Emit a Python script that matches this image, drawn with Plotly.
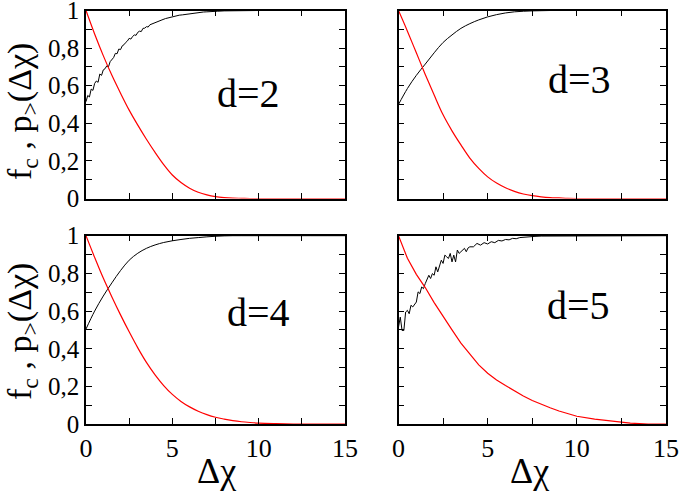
"""Four-panel plot of f_c and p_>(dchi) for d = 2..5."""

import plotly.graph_objects as go
from plotly.subplots import make_subplots

# shared x grid for the smooth curves
X_GRID = [0, 0.5, 1, 1.5, 2, 2.5, 3, 3.5, 4, 4.5, 5, 5.5, 6, 6.5, 7, 7.5,
          8, 8.5, 9, 9.5, 10, 11, 12, 13, 14, 15]

# red curves, p_>(dchi)
RED_D2 = [1.00, 0.875, 0.76, 0.655, 0.56, 0.47, 0.39, 0.315, 0.245, 0.18, 0.125,
          0.085, 0.055, 0.033, 0.019, 0.010, 0.005, 0.002, 0.001, 0, 0, 0, 0, 0, 0, 0]
RED_D3 = [1.00, 0.89, 0.775, 0.66, 0.55, 0.445, 0.36, 0.285, 0.215, 0.16, 0.115,
          0.082, 0.057, 0.038, 0.024, 0.015, 0.009, 0.005, 0.003, 0.001, 0, 0, 0, 0, 0, 0]
RED_D4 = [1.00, 0.885, 0.775, 0.675, 0.58, 0.49, 0.405, 0.328, 0.262, 0.205, 0.158,
          0.121, 0.092, 0.069, 0.051, 0.037, 0.027, 0.019, 0.013, 0.009, 0.006,
          0.003, 0.001, 0, 0, 0]
RED_D5 = [1.00, 0.88, 0.795, 0.725, 0.645, 0.57, 0.50, 0.43, 0.37, 0.315, 0.27,
          0.235, 0.205, 0.177, 0.15, 0.126, 0.105, 0.087, 0.07, 0.055, 0.042,
          0.027, 0.016, 0.006, 0, 0]

# black curves, f_c (d=3 and d=4 are smooth)
BLACK_D3 = [0.50, 0.585, 0.655, 0.715, 0.775, 0.83, 0.87, 0.905, 0.93, 0.95, 0.966,
            0.978, 0.987, 0.993, 0.996, 0.998, 0.999, 1, 1, 1, 1, 1, 1, 1, 1, 1]
BLACK_D4 = [0.505, 0.60, 0.68, 0.75, 0.815, 0.87, 0.907, 0.933, 0.951, 0.964, 0.973,
            0.98, 0.986, 0.99, 0.994, 0.997, 0.999, 1, 1, 1, 1, 1, 1, 1, 1, 1]

# noisy black curves for d=2 and d=5
X_NOISY = [0, 0.1, 0.2, 0.3, 0.4, 0.5, 0.6, 0.7, 0.8, 0.9, 1.0, 1.1, 1.2, 1.3, 1.4,
           1.5, 1.6, 1.7, 1.8, 1.9, 2.0, 2.1, 2.2, 2.3, 2.4, 2.5, 2.6, 2.7, 2.8,
           2.9, 3.0, 3.1, 3.2, 3.3, 3.4, 3.5, 3.6, 3.7, 3.8, 3.9, 4.0, 4.2, 4.4,
           4.6, 4.8, 5.0, 5.2, 5.4, 5.6, 5.8, 6.0, 6.2, 6.4, 6.6, 6.8, 7.0, 7.2,
           7.6, 8.0, 8.5, 9, 10, 15]
BLACK_D2 = [0.515, 0.548, 0.540, 0.582, 0.575, 0.612, 0.625, 0.618, 0.662, 0.655,
            0.684, 0.690, 0.705, 0.700, 0.728, 0.742, 0.750, 0.772, 0.770, 0.795,
            0.792, 0.812, 0.818, 0.830, 0.838, 0.852, 0.848, 0.862, 0.870, 0.868,
            0.884, 0.890, 0.888, 0.905, 0.906, 0.914, 0.912, 0.924, 0.928, 0.930,
            0.938, 0.944, 0.950, 0.957, 0.962, 0.967, 0.970, 0.975, 0.977, 0.980,
            0.984, 0.985, 0.988, 0.989, 0.992, 0.993, 0.995, 0.996, 0.998, 0.999,
            1.0, 1.0, 1.0]
BLACK_D5 = [0.515, 0.568, 0.497, 0.497, 0.595, 0.604, 0.586, 0.631, 0.622, 0.639,
            0.648, 0.702, 0.693, 0.728, 0.719, 0.746, 0.764, 0.790, 0.773, 0.799,
            0.790, 0.835, 0.808, 0.844, 0.870, 0.853, 0.897, 0.888, 0.879, 0.906,
            0.861, 0.897, 0.861, 0.924, 0.906, 0.915, 0.924, 0.933, 0.915, 0.935,
            0.941, 0.941, 0.959, 0.950, 0.963, 0.956, 0.968, 0.963, 0.975, 0.972,
            0.980, 0.978, 0.986, 0.984, 0.990, 0.992, 0.995, 0.996, 0.998, 0.998,
            1.0, 1.0, 1.0]

PANEL_LABELS = ["d=2", "d=3", "d=4", "d=5"]
X_TICKS = [0, 5, 10, 15]
X_TICK_TEXT = ["0", "5", "10", "15"]
X_MINOR = [2.5, 7.5, 12.5]
Y_TICKS = [0, 0.2, 0.4, 0.6, 0.8, 1]
Y_TICK_TEXT = ["0", "0,2", "0,4", "0,6", "0,8", "1"]
Y_MINOR = [0.1, 0.3, 0.5, 0.7, 0.9]

FONT = "Liberation Serif, 'Times New Roman', Times, serif"
W, H = 681, 494

panels = [
    dict(row=1, col=1, xb=X_NOISY, black=BLACK_D2, red=RED_D2, red_shape="spline",
         xdom=(86, 345), ydom=(10.5, 198.5), label_at=(248, 93)),
    dict(row=1, col=2, xb=X_GRID, black=BLACK_D3, red=RED_D3, red_shape="spline",
         xdom=(398.5, 666), ydom=(10.5, 198.5), label_at=(579, 79)),
    dict(row=2, col=1, xb=X_GRID, black=BLACK_D4, red=RED_D4, red_shape="spline",
         xdom=(86, 345), ydom=(235.7, 424.2), label_at=(258, 312)),
    dict(row=2, col=2, xb=X_NOISY, black=BLACK_D5, red=RED_D5, red_shape="linear",
         xdom=(398.5, 666), ydom=(235.7, 424.2), label_at=(578, 305)),
]


def paper_text(text, px, py, size, angle=0):
    """Centered paper-coordinate annotation placed by pixel position."""
    return dict(
        text=text, x=px / W, y=1 - py / H, xref="paper", yref="paper",
        xanchor="center", yanchor="middle", showarrow=False, textangle=angle,
        font=dict(family=FONT, size=size, color="black"),
    )


fig = make_subplots(rows=2, cols=2)

for p, label in zip(panels, PANEL_LABELS):
    smooth_black = "linear" if p["xb"] is X_NOISY else "spline"
    fig.add_trace(
        go.Scatter(x=p["xb"], y=p["black"], mode="lines", line_shape=smooth_black,
                   line=dict(color="black", width=1)),
        row=p["row"], col=p["col"],
    )
    fig.add_trace(
        go.Scatter(x=X_GRID, y=p["red"], mode="lines", line_shape=p["red_shape"],
                   line=dict(color="#ff0000", width=1.2)),
        row=p["row"], col=p["col"],
    )
    fig.update_xaxes(
        domain=[p["xdom"][0] / W, p["xdom"][1] / W],
        range=[0, 15], tickvals=X_TICKS, ticktext=X_TICK_TEXT,
        showticklabels=p["row"] == 2,
        minor=dict(tickvals=X_MINOR, ticks="inside", ticklen=6, tickcolor="black"),
        row=p["row"], col=p["col"],
    )
    fig.update_yaxes(
        domain=[1 - p["ydom"][1] / H, 1 - p["ydom"][0] / H],
        range=[0, 1], tickvals=Y_TICKS, ticktext=Y_TICK_TEXT,
        showticklabels=p["col"] == 1,
        minor=dict(tickvals=Y_MINOR, ticks="inside", ticklen=6, tickcolor="black"),
        row=p["row"], col=p["col"],
    )
    fig.add_annotation(**paper_text(label, *p["label_at"], 40))

axis_style = dict(showline=True, linecolor="black", linewidth=1.5, mirror="ticks",
                  ticks="inside", ticklen=6, tickcolor="black", showgrid=False,
                  zeroline=False, automargin=False, ticklabeloverflow="allow")
fig.update_xaxes(**axis_style, tickfont=dict(family=FONT, size=26, color="black"))
fig.update_yaxes(**axis_style, tickfont=dict(family=FONT, size=25, color="black"))

# axis titles as annotations so they sit where the original has them
for yc in (112, 332):
    fig.add_annotation(**paper_text("f<sub>c</sub> , p<sub>></sub>(Δχ)", 22, yc, 34, -90))
for xc in (216, 529):
    fig.add_annotation(**paper_text("Δχ", xc, 471, 36))

fig.update_layout(
    width=W, height=H, showlegend=False,
    margin=dict(l=0, r=0, t=0, b=0, autoexpand=False),
    paper_bgcolor="white", plot_bgcolor="white",
)

# drop the default 8px page margin so the figure sits at the window origin
fig.write_html("out.html", config={"displayModeBar": False},
               post_script="document.body.style.margin = '0';")
